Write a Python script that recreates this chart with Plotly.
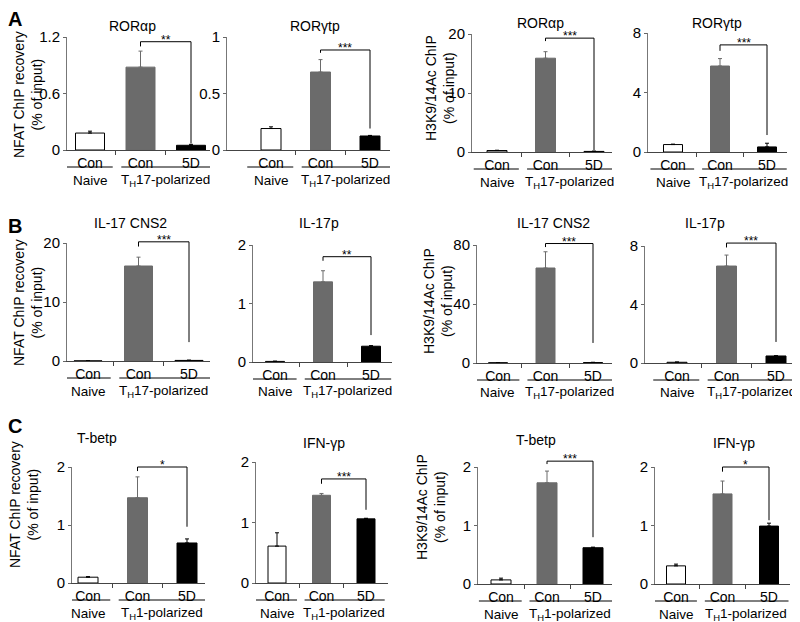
import plotly.graph_objects as go

W, H = 800, 622
OFF = 8  # the page body margin shifts the figure by this much
FW, FH = W - OFF, H - OFF

titles = ["RORαp", "RORγtp", "RORαp", "RORγtp",
          "IL-17 CNS2", "IL-17p", "IL-17 CNS2", "IL-17p",
          "T-betp", "IFN-γp", "T-betp", "IFN-γp"]
stars = ["**", "***", "***", "***", "***", "**", "***", "***", "*", "***", "***", "*"]
labels = ["Con", "Con", "5D"]
naive_mean = [0.18, 0.19, 0.25, 0.5, 0.02, 0.01, 0.2, 0.05, 0.1, 0.61, 0.07, 0.31]
naive_err = [0.02, 0.015, 0.05, 0.03, 0.01, 0.005, 0.1, 0.02, 0.01, 0.22, 0.03, 0.03]
con_mean = [0.88, 0.69, 15.9, 5.78, 16.1, 1.37, 64.4, 6.63, 1.47, 1.45, 1.73, 1.54]
con_err = [0.17, 0.11, 1.1, 0.5, 1.5, 0.19, 11, 0.75, 0.36, 0.03, 0.2, 0.22]
d5_mean = [0.05, 0.124, 0.1, 0.34, 0.1, 0.27, 0.3, 0.48, 0.69, 1.06, 0.62, 0.99]
d5_err = [0.01, 0.005, 0.05, 0.25, 0.05, 0.01, 0.2, 0.02, 0.07, 0.01, 0.01, 0.05]
y_top = [1.2, 1, 20, 8, 20, 2, 80, 8, 2, 2, 2, 2]
y_ticks = [[0, 0.6, 1.2], [0, 0.5, 1], [0, 10, 20], [0, 4, 8],
           [0, 10, 20], [0, 1, 2], [0, 40, 80], [0, 4, 8],
           [0, 1, 2], [0, 1, 2], [0, 1, 2], [0, 1, 2]]
bracket_y = [1.15, 0.885, 19.3, 7.2, 20.2, 1.80, 81, 8.2, 2.0, 1.72, 2.1, 2.0]
bracket_left = [1.1, 0.86, 18.8, 6.8, 19.4, 1.73, 78.6, 7.9, 1.93, 1.64, 2.05, 1.92]
bracket_right = [0.07, 0.19, 0.3, 1.14, 3.2, 0.46, 13.6, 1.44, 0.97, 1.21, 0.80, 1.09]
groups = ["T<sub>H</sub>17-polarized"] * 8 + ["T<sub>H</sub>1-polarized"] * 4

# panel boxes in reference pixels: y-axis x, x-axis end, naive centre, 5D centre, bar width, top, zero
boxes = [
    (67, 210, 90, 191, 29, 37, 150), (227, 390, 271, 370, 20, 37, 150),
    (472, 612, 497, 594, 20, 34, 152), (648, 787, 673, 767, 19, 33, 152),
    (67, 210, 88, 189, 28, 243, 361), (253, 392, 275, 371, 19, 245, 362),
    (477, 612, 498, 593, 19, 245, 363), (645, 792, 677, 776, 20, 246, 363),
    (72, 205, 88, 187, 20, 467, 583), (256, 388, 277, 366, 18, 462, 583),
    (478, 612, 501, 593, 20, 467, 584), (655, 790, 676, 769, 19, 467, 584),
]
# title centres in reference pixels
title_pos = [(132, 26), (315, 26), (540, 23), (717, 23),
             (130, 223), (319, 223), (553, 223), (705, 223),
             (97, 438), (324, 443), (536, 440), (734, 443)]

FONT = "Liberation Sans, Arial, sans-serif"
fills = ["white", "#6b6b6b", "black"]
edges = ["black", "#6b6b6b", "black"]

fig = go.Figure()
layout = {}
shapes = []
ann = []


def px_(p):
    return (p - OFF) / FW


def py(p):
    return 1 - (p - OFF) / FH


def text(x, y, t, xref="paper", size=14, **kw):
    return dict(x=x, y=y, xref=xref, yref="paper", text=t, showarrow=False,
                xanchor="center", yanchor="middle",
                font=dict(size=size, color="black", family=FONT), **kw)


for i in range(12):
    x0, x1, cN, c5, bw, pt, pz = boxes[i]
    s = (c5 - cN) / 2
    ax = "" if i == 0 else str(i + 1)
    xa, ya = "x" + ax, "y" + ax
    y0d, y1d = py(pz), py(pt)

    def yp(v):
        return y0d + v / y_top[i] * (y1d - y0d)

    means = [naive_mean[i], con_mean[i], d5_mean[i]]
    errs = [naive_err[i], con_err[i], d5_err[i]]
    for j in range(3):
        fig.add_trace(go.Bar(
            x=[j], y=[means[j]], width=bw / s, xaxis=xa, yaxis=ya, showlegend=False,
            marker=dict(color=fills[j], line=dict(color=edges[j], width=1)),
            error_y=dict(type="data", array=[errs[j]], arrayminus=[0], symmetric=False,
                         color=edges[j], thickness=1, width=2),
        ))
    layout["xaxis" + ax] = dict(
        domain=[px_(x0), px_(x1)], range=[(x0 - cN) / s, (x1 - cN) / s], anchor=ya,
        tickvals=[0, 1, 2], ticktext=labels, ticks="", showline=True, linecolor="#444",
        showgrid=False, zeroline=False, fixedrange=True, automargin=False,
        tickfont=dict(size=14, color="black", family=FONT),
        minor=dict(tickvals=[0.5, 1.5], ticks="outside", ticklen=4, tickcolor="#444"),
    )
    layout["yaxis" + ax] = dict(
        domain=[y0d, y1d], range=[0, y_top[i]], anchor=xa,
        tickvals=y_ticks[i], ticktext=[f"{v:g}" for v in y_ticks[i]],
        ticks="outside", ticklen=3, tickcolor="#666", showline=True, linecolor="#777",
        showgrid=False, zeroline=False, fixedrange=True, automargin=False,
        tickfont=dict(size=15, color="black", family=FONT),
    )
    # significance bracket
    shapes.append(dict(
        type="path", xref=xa, yref="paper", line=dict(color="black", width=1),
        path=(f"M 1,{yp(bracket_left[i])} L 1,{yp(bracket_y[i])} "
              f"L 2,{yp(bracket_y[i])} L 2,{yp(bracket_right[i])}"),
    ))
    ann.append(text(1.5, yp(bracket_y[i]), stars[i], xref=xa, size=12, yshift=2))
    # title
    tx, ty = title_pos[i]
    ann.append(text(px_(tx), py(ty), titles[i]))
    # group underlines and labels
    for a, b in [(-0.48, 0.45), (0.62, 2.42)]:
        shapes.append(dict(type="line", xref=xa, yref="paper", x0=a, x1=b,
                           y0=py(pz + 17), y1=py(pz + 17), line=dict(color="black", width=1)))
    ann.append(text(0, py(pz + 30), "Naive", xref=xa, size=13.5))
    ann.append(text(1.5, py(pz + 30), groups[i], xref=xa, size=13.5))

# y-axis titles
ytitles = [(28, 95, "NFAT ChIP recovery"), (440, 88, "H3K9/14Ac ChIP"),
           (28, 303, "NFAT ChIP recovery"), (438, 301, "H3K9/14Ac ChIP"),
           (24, 505, "NFAT ChIP recovery"), (431, 507, "H3K9/14Ac ChIP")]
for x, y, t in ytitles:
    ann.append(text(px_(x), py(y), t + "<br>(% of input)", textangle=-90))

for letter, x, y in [("A", 15, 19), ("B", 15, 226), ("C", 15, 426)]:
    ann.append(text(px_(x), py(y), f"<b>{letter}</b>", size=20))

fig.update_layout(
    width=FW, height=FH, margin=dict(l=0, r=0, t=0, b=0, autoexpand=False),
    plot_bgcolor="white", paper_bgcolor="white", barmode="overlay",
    shapes=shapes, annotations=ann, **layout,
)
fig.write_html("out.html")
